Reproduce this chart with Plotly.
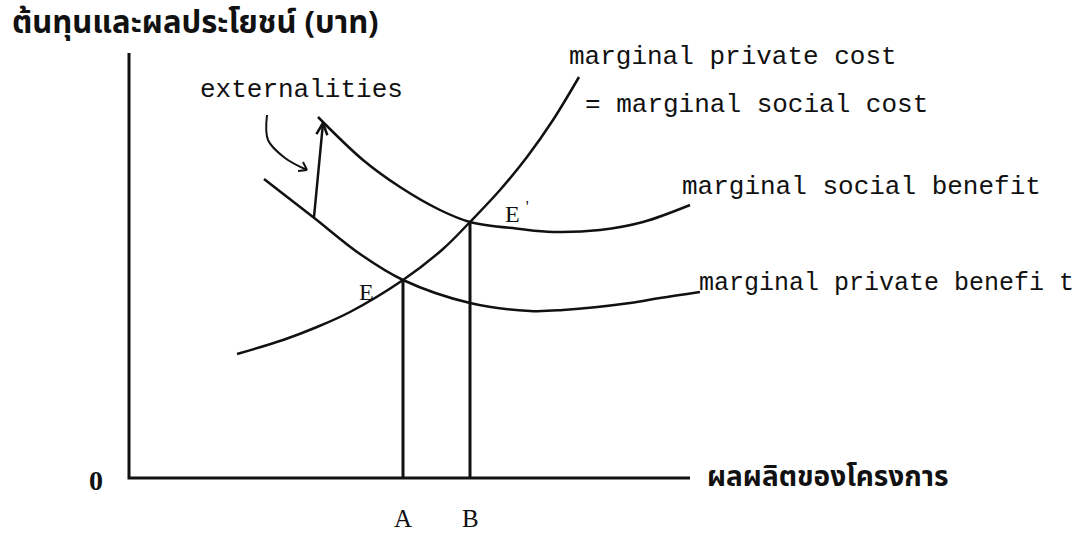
import math
import plotly.graph_objects as go

# quantity / price units (arbitrary)
mpc_q = [10.8, 15.4, 18.8, 22.1, 27.4, 31.4, 34.1, 37.1, 39.8, 42.4, 45.0]
mpc_p = [12.4, 13.8, 15.1, 16.6, 19.8, 22.9, 25.6, 28.8, 32.1, 35.8, 40.1]

msb_q = [18.9, 23.4, 27.1, 31.1, 34.1, 39.1, 42.4, 47.1, 51.4, 56.1]
msb_p = [36.1, 31.8, 29.1, 26.8, 25.6, 24.9, 24.6, 24.8, 25.6, 27.3]

mpb_q = [13.5, 18.4, 23.1, 27.4, 34.1, 40.1, 43.4, 50.1, 53.1, 57.1]
mpb_p = [29.9, 26.1, 22.4, 19.8, 17.5, 16.7, 16.8, 17.5, 18.0, 18.6]

# equilibria E (private) and E' (social)
eq_q = [27.4, 34.1]
eq_p = [19.8, 25.6]
eq_ticks = ["A", "B"]

# externality arrows
ext_arrow_q = [18.5, 19.4]
ext_arrow_p = [26.1, 35.5]
pointer_q = [13.8, 13.9, 15.6, 17.8]
pointer_p = [36.3, 33.8, 32.0, 30.8]

axis_q_max = 56.1
axis_p_max = 42.5

INK = "#111111"
MONO = "Liberation Mono, Courier New, monospace"
SERIF = "Liberation Serif, Times New Roman, serif"
THAI = "Noto Sans Thai, Loma, Garuda, Norasi, Tlwg Typo, Noto Sans, sans-serif"


def head(q, p, size=1.3, spread=25):
    """open V arrowhead at the last point of a path"""
    ang = math.atan2(p[-1] - p[-2], q[-1] - q[-2])
    xs, ys = [], []
    for s in (spread, -spread):
        a = ang + math.pi - math.radians(s)
        xs += [q[-1] + size * math.cos(a), q[-1], None]
        ys += [p[-1] + size * math.sin(a), p[-1], None]
    return xs, ys


fig = go.Figure()

line = dict(color=INK, width=2.5)

# axes
fig.add_trace(go.Scatter(x=[0, 0, axis_q_max], y=[axis_p_max, 0, 0], mode="lines",
                         line=dict(color=INK, width=3)))

# curves
for q, p in [(mpc_q, mpc_p), (msb_q, msb_p), (mpb_q, mpb_p)]:
    fig.add_trace(go.Scatter(x=q, y=p, mode="lines",
                             line=dict(color=INK, width=2.5, shape="spline", smoothing=1.0)))

# drop lines at A and B
for q, p in zip(eq_q, eq_p):
    fig.add_trace(go.Scatter(x=[q, q], y=[0, p], mode="lines", line=dict(color=INK, width=3)))

# arrows
fig.add_trace(go.Scatter(x=ext_arrow_q, y=ext_arrow_p, mode="lines", line=line))
hx, hy = head(ext_arrow_q, ext_arrow_p)
fig.add_trace(go.Scatter(x=hx, y=hy, mode="lines", line=line))
fig.add_trace(go.Scatter(x=pointer_q, y=pointer_p, mode="lines",
                         line=dict(color=INK, width=2, shape="spline")))
hx, hy = head(pointer_q, pointer_p, size=0.9, spread=35)
fig.add_trace(go.Scatter(x=hx, y=hy, mode="lines", line=dict(color=INK, width=2)))


def label(text, x, y, font, size, xanchor="left"):
    fig.add_annotation(x=x, y=y, text=text, showarrow=False, xanchor=xanchor, yanchor="middle",
                       font=dict(family=font, size=size, color=INK))


label("externalities", 17.25, 38.8, MONO, 26, "center")
label("marginal private cost", 43.8, 42.1, MONO, 26)
label("= marginal social cost", 45.4, 37.3, MONO, 26)
label("marginal social benefit", 55.1, 29.1, MONO, 26)
label("marginal private benefi t", 56.8, 19.5, MONO, 25)
label("E", 23.7, 18.6, SERIF, 24, "center")
label("E <sup>'</sup>", 37.4, 26.6, SERIF, 24)
label("<b>0</b>", -3.3, -0.2, SERIF, 28, "center")
for q, t in zip(eq_q, eq_ticks):
    label(t, q, -4.0, SERIF, 25, "center")
label("<b>ต้นทุนและผลประโยชน์ (บาท)</b>", -11.9, 45.5, THAI, 31)
label("<b>ผลผลิตของโครงการ</b>", 57.6, 0.1, THAI, 28)

fig.update_layout(
    width=1090, height=535,
    margin=dict(l=0, r=0, t=0, b=0),
    showlegend=False,
    plot_bgcolor="white", paper_bgcolor="white",
    xaxis=dict(range=[-12.9, 96.1], visible=False),
    yaxis=dict(range=[-5.7, 47.8], visible=False),
)

fig.write_html("out.html", config={"displayModeBar": False},
               post_script="document.body.style.margin='0';")
